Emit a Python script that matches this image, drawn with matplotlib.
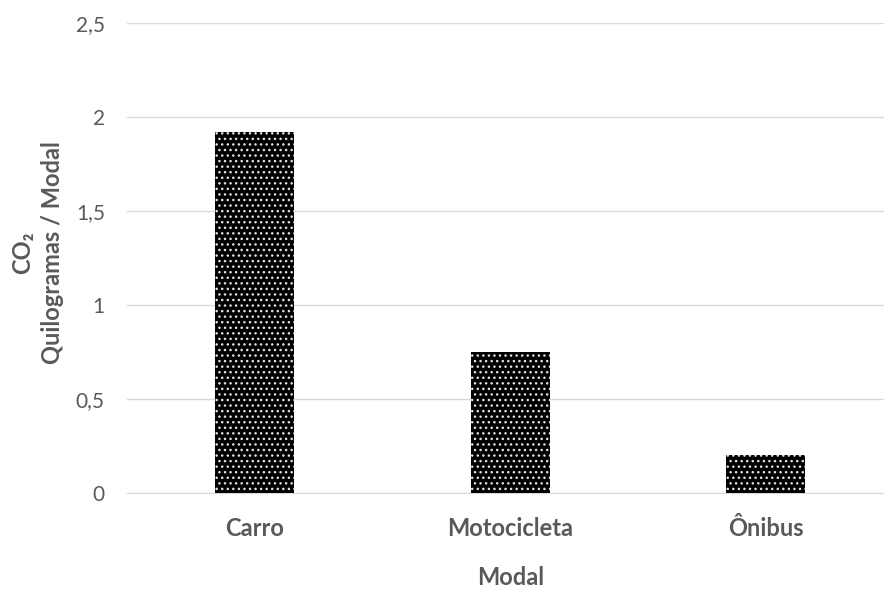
import matplotlib.pyplot as plt

# CO2 por modal de transporte
modais = ['Carro', 'Motocicleta', 'Ônibus']
co2_kg = [1.92, 0.75, 0.20]
yticks = [0, 0.5, 1, 1.5, 2, 2.5]
ytick_labels = ['0', '0,5', '1', '1,5', '2', '2,5']

plt.rcParams['font.family'] = ['Lato', 'DejaVu Sans']
plt.rcParams['hatch.linewidth'] = 1.0
cinza = '#595959'

fig = plt.figure(figsize=(8.84, 5.9), dpi=100)
ax = fig.add_axes([0.1437, 0.1644, 0.8563, 0.7966])

ax.bar(range(len(modais)), co2_kg, width=0.31, color='black',
       edgecolor='#e0e0e0', linewidth=0, hatch='...', zorder=3)

ax.set_xlim(-0.5, 2.464)
ax.set_ylim(0, 2.5)
ax.set_yticks(yticks)
ax.set_yticklabels(ytick_labels, fontsize=15, color=cinza)
ax.set_xticks(range(len(modais)))
ax.set_xticklabels(modais, fontsize=17, fontweight='bold', color=cinza)
ax.tick_params(axis='both', length=0)
ax.tick_params(axis='x', pad=17)
ax.tick_params(axis='y', pad=16)

ax.grid(axis='y', color='#d9d9d9', linewidth=1.0, zorder=0)
for s in ['top', 'right', 'left']:
    ax.spines[s].set_visible(False)
ax.spines['bottom'].set_color('#d9d9d9')

# rótulos dos eixos
fig.text(511 / 884, 1 - 585 / 590, 'Modal', ha='center', va='baseline',
         fontsize=17, fontweight='bold', color=cinza)
fig.text(23 / 884, 0.572, 'CO₂', rotation=90, ha='center', va='center',
         fontsize=17, fontweight='bold', color=cinza)
fig.text(53 / 884, 0.572, 'Quilogramas / Modal', rotation=90, ha='center', va='center',
         fontsize=17, fontweight='bold', color=cinza)

fig.savefig('out.png', dpi=100)
